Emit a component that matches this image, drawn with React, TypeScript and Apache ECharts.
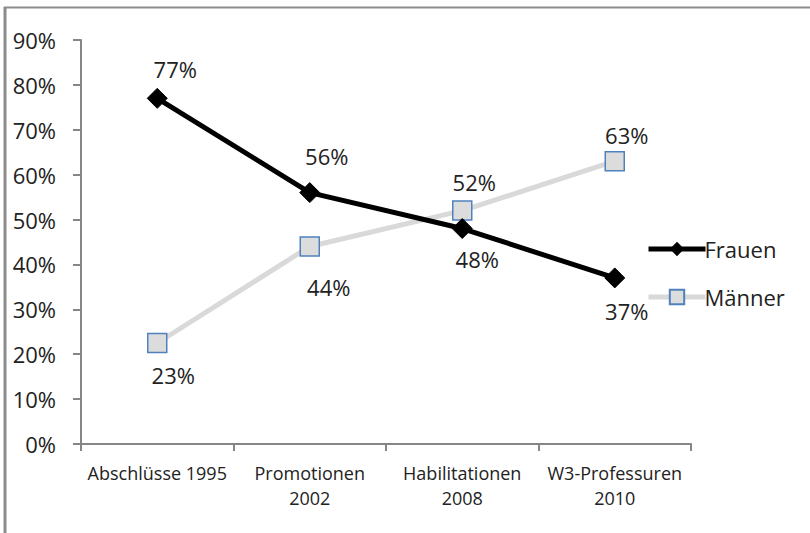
import React, { useEffect, useRef } from "react";
import * as echarts from "echarts";

const categories = ["Abschlüsse 1995", "Promotionen\n2002", "Habilitationen\n2008", "W3-Professuren\n2010"];
const frauen = [77, 56, 48, 37];
const maenner = [22.5, 44, 52, 63];
const yTicks = [0, 10, 20, 30, 40, 50, 60, 70, 80, 90];
// label offsets (px) relative to each point
const frauenLabelOffset = [[18, -29], [17, -37], [15, 30], [12, 33]];
const maennerLabelOffset = [[16, 32], [19, 41], [12, -29], [12, -26]];

const FONT = "'Open Sans', 'Liberation Sans', sans-serif";
const TXT = "#222222";
const AXIS = "#868686";

export default function App() {
  const ref = useRef<HTMLDivElement>(null);
  useEffect(() => {
    const chart = echarts.init(ref.current!, null, { renderer: "svg" });
    const lbl = (off: number[]) => ({
      show: true,
      position: "inside",
      offset: off,
      formatter: (p: any) => Math.round(p.value) + "%",
      color: TXT,
      fontSize: 22,
      fontFamily: FONT,
    });
    chart.setOption({
      animation: false,
      backgroundColor: "#fff",
      textStyle: { fontFamily: FONT },
      grid: { left: 81, right: 119, top: 40, bottom: 89, containLabel: false },
      legend: {
        orient: "vertical",
        left: 641,
        top: 233,
        itemWidth: 57,
        itemHeight: 18,
        itemGap: 26,
        textStyle: { color: TXT, fontSize: 22, fontFamily: FONT, padding: [0, 0, 0, -6] },
        data: [
          { name: "Frauen", lineStyle: { width: 5, color: "#000" } },
          { name: "Männer", lineStyle: { width: 5, color: "#d9d9d9" } },
        ],
      },
      xAxis: {
        type: "category",
        data: categories,
        boundaryGap: true,
        axisLine: { lineStyle: { color: AXIS, width: 2 } },
        axisTick: { show: true, length: 7, lineStyle: { color: AXIS, width: 2 }, alignWithLabel: false },
        axisLabel: { color: TXT, fontSize: 18, fontFamily: FONT, margin: 16, lineHeight: 25, interval: 0 },
      },
      yAxis: {
        type: "value",
        min: 0,
        max: 90,
        interval: 10,
        splitLine: { show: false },
        axisLine: { show: true, lineStyle: { color: AXIS, width: 2 } },
        axisTick: { show: true, length: 8, lineStyle: { color: AXIS, width: 2 } },
        axisLabel: {
          color: TXT,
          fontSize: 22,
          fontFamily: FONT,
          margin: 25,
          formatter: (v: number) => (yTicks.includes(v) ? v + "%" : ""),
        },
      },
      series: [
        {
          name: "Frauen",
          type: "line",
          data: frauen.map((v, i) => ({ value: v, label: lbl(frauenLabelOffset[i]) })),
          lineStyle: { color: "#000", width: 5 },
          itemStyle: { color: "#000", borderColor: "#000" },
          symbol: "diamond",
          symbolSize: 20,
          z: 3,
        },
        {
          name: "Männer",
          type: "line",
          data: maenner.map((v, i) => ({ value: v, label: lbl(maennerLabelOffset[i]) })),
          lineStyle: { color: "#d9d9d9", width: 5 },
          itemStyle: { color: "#dcdcdc", borderColor: "#4f81bd", borderWidth: 1.5 },
          symbol: "rect",
          symbolSize: 19,
          z: 2,
        },
      ],
      graphic: [
        { type: "line", shape: { x1: 5, y1: 7, x2: 5, y2: 533 }, style: { stroke: "#8c8c8c", lineWidth: 3 } },
        { type: "line", shape: { x1: 4, y1: 7.5, x2: 810, y2: 7.5 }, style: { stroke: "#8c8c8c", lineWidth: 2 } },
      ],
    });
    return () => chart.dispose();
  }, []);
  return <div ref={ref} style={{ width: 810, height: 533, position: "absolute", left: 0, top: 0 }} />;
}
